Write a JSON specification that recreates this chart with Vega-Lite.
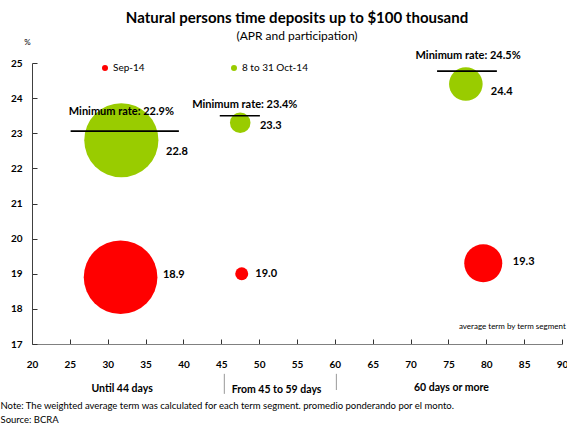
{
  "$schema": "https://vega.github.io/schema/vega-lite/v6.json",
  "width": 530,
  "height": 281,
  "autosize": {"type": "none"},
  "padding": {"left": 32, "top": 63, "right": 5, "bottom": 80},
  "background": "white",
  "title": {
    "text": "Natural persons time deposits up to $100 thousand",
    "subtitle": "(APR and participation)",
    "anchor": "middle",
    "frame": "group",
    "font": "Lato",
    "fontSize": 15,
    "fontWeight": "bold",
    "color": "black",
    "subtitleFont": "Lato",
    "subtitleFontSize": 12,
    "subtitleColor": "black",
    "subtitlePadding": 5,
    "offset": -4
  },
  "config": {
    "view": {"stroke": null},
    "font": "Lato",
    "axis": {"labelOverlap": false, "labelSeparation": 0, "grid": false, "labelBound": false, "labelFlush": false},
    "axisX": {
      "titleFont": "Lato", "titleFontSize": 9.5, "titleFontWeight": "normal", "titleColor": "black",
      "titleAnchor": "start", "titleAlign": "left", "titleX": -32, "titleY": 64,
      "titleBaseline": "alphabetic", "titleLineHeight": 14,
      "labelFont": "Lato", "labelFontWeight": "bold", "labelFontSize": 10, "labelColor": "black",
      "labelPadding": 20, "tickSize": -5, "tickColor": "#333333", "domainColor": "#808080"
    },
    "axisY": {
      "titleAngle": 0, "titleX": -5, "titleY": -21,
      "titleAlign": "center", "titleBaseline": "middle",
      "titleFont": "Lato", "titleFontSize": 8, "titleFontWeight": "normal", "titleColor": "black",
      "labelFont": "Lato", "labelFontWeight": "bold", "labelFontSize": 10, "labelColor": "black",
      "labelPadding": 15, "tickSize": -5, "tickColor": "#333333", "domainColor": "#404040"
    },
    "legend": {
      "orient": "none",
      "legendX": 68,
      "legendY": 0,
      "direction": "horizontal",
      "title": null,
      "symbolType": "circle",
      "symbolSize": 36,
      "symbolStrokeWidth": 0,
      "labelFont": "Lato",
      "labelFontSize": 10,
      "labelColor": "black",
      "labelOffset": 3,
      "columnPadding": 84,
      "padding": 0
    }
  },
  "datasets": {
    "bubbles": [
      {"series": "Sep-14", "segment": "Until 44 days", "term": 31.7, "rate": 18.9, "participation": 77, "lx": 37.3, "ly": 18.97},
      {"series": "Sep-14", "segment": "From 45 to 59 days", "term": 47.7, "rate": 19.0, "participation": 2.4, "lx": 49.5, "ly": 19.0},
      {"series": "Sep-14", "segment": "60 days or more", "term": 79.6, "rate": 19.3, "participation": 20.5, "lx": 83.5, "ly": 19.34},
      {"series": "8 to 31 Oct-14", "segment": "Until 44 days", "term": 31.8, "rate": 22.8, "participation": 78, "lx": 37.7, "ly": 22.47},
      {"series": "8 to 31 Oct-14", "segment": "From 45 to 59 days", "term": 47.5, "rate": 23.3, "participation": 6, "lx": 50.1, "ly": 23.2},
      {"series": "8 to 31 Oct-14", "segment": "60 days or more", "term": 77.3, "rate": 24.4, "participation": 16, "lx": 80.6, "ly": 24.18}
    ],
    "minrates": [
      {"segment": "Until 44 days", "label": "Minimum rate: 22.9%", "x1": 25.1, "x2": 39.4, "lineRate": 23.06, "tx": 31.8, "ty": 23.61},
      {"segment": "From 45 to 59 days", "label": "Minimum rate: 23.4%", "x1": 44.8, "x2": 50.1, "lineRate": 23.5, "tx": 48.1, "ty": 23.8},
      {"segment": "60 days or more", "label": "Minimum rate: 24.5%", "x1": 73.5, "x2": 81.4, "lineRate": 24.77, "tx": 77.6, "ty": 25.2}
    ],
    "segments": [
      {"segment": "Until 44 days", "cx": 31.9, "cy": 15.73},
      {"segment": "From 45 to 59 days", "cx": 52.3, "cy": 15.68},
      {"segment": "60 days or more", "cx": 75.4, "cy": 15.76}
    ],
    "separators": [
      {"sx": 45.4, "sy1": 16.15, "sy2": 15.58},
      {"sx": 60.2, "sy1": 16.15, "sy2": 15.69}
    ],
    "notes": [
      {"note": "average term by term segment", "nx": 90.5, "ny": 17.48}
    ]
  },
  "layer": [
    {
      "data": {"name": "bubbles"},
      "mark": {"type": "circle", "opacity": 1, "clip": false},
      "encoding": {
        "x": {
          "field": "term", "type": "quantitative",
          "scale": {"domain": [20, 90], "nice": false, "zero": false},
          "axis": {"values": [20, 25, 30, 35, 40, 45, 50, 55, 60, 65, 70, 75, 80, 85, 90], "labelOverlap": false, "title": ["Note: The weighted average term was calculated for each term segment. promedio ponderando por el monto.", "Source: BCRA"]}
        },
        "y": {
          "field": "rate", "type": "quantitative",
          "scale": {"domain": [17, 25], "nice": false, "zero": false},
          "axis": {"values": [17, 18, 19, 20, 21, 22, 23, 24, 25], "title": "%", "labelOverlap": false}
        },
        "color": {
          "field": "series", "type": "nominal",
          "scale": {"domain": ["Sep-14", "8 to 31 Oct-14"], "range": ["#FF0000", "#99CC00"]}
        },
        "size": {
          "field": "participation", "type": "quantitative",
          "scale": {"type": "linear", "domain": [0, 100], "range": [0, 7050]},
          "legend": null
        }
      }
    },
    {
      "data": {"name": "bubbles"},
      "mark": {"type": "text", "align": "left", "baseline": "middle", "fontWeight": "bold", "fontSize": 11, "font": "Lato", "color": "black"},
      "encoding": {
        "x": {"field": "lx", "type": "quantitative", "axis": {"values": [20, 25, 30, 35, 40, 45, 50, 55, 60, 65, 70, 75, 80, 85, 90], "labelOverlap": false, "title": ["Note: The weighted average term was calculated for each term segment. promedio ponderando por el monto.", "Source: BCRA"]}},
        "y": {"field": "ly", "type": "quantitative", "axis": {"values": [17, 18, 19, 20, 21, 22, 23, 24, 25], "title": "%", "labelOverlap": false}},
        "text": {"field": "rate", "type": "quantitative", "format": ".1f"}
      }
    },
    {
      "data": {"name": "minrates"},
      "mark": {"type": "rule", "color": "black", "strokeWidth": 1.6},
      "encoding": {
        "x": {"field": "x1", "type": "quantitative", "axis": {"values": [20, 25, 30, 35, 40, 45, 50, 55, 60, 65, 70, 75, 80, 85, 90], "labelOverlap": false, "title": ["Note: The weighted average term was calculated for each term segment. promedio ponderando por el monto.", "Source: BCRA"]}},
        "x2": {"field": "x2"},
        "y": {"field": "lineRate", "type": "quantitative", "axis": {"values": [17, 18, 19, 20, 21, 22, 23, 24, 25], "title": "%", "labelOverlap": false}}
      }
    },
    {
      "data": {"name": "minrates"},
      "mark": {"type": "text", "align": "center", "baseline": "middle", "fontWeight": "bold", "fontSize": 11, "font": "Lato", "color": "black"},
      "encoding": {
        "x": {"field": "tx", "type": "quantitative", "axis": {"values": [20, 25, 30, 35, 40, 45, 50, 55, 60, 65, 70, 75, 80, 85, 90], "labelOverlap": false, "title": ["Note: The weighted average term was calculated for each term segment. promedio ponderando por el monto.", "Source: BCRA"]}},
        "y": {"field": "ty", "type": "quantitative", "axis": {"values": [17, 18, 19, 20, 21, 22, 23, 24, 25], "title": "%", "labelOverlap": false}},
        "text": {"field": "label", "type": "nominal"}
      }
    },
    {
      "data": {"name": "segments"},
      "mark": {"type": "text", "align": "center", "baseline": "middle", "fontWeight": "bold", "fontSize": 10.5, "font": "Lato", "color": "black", "clip": false},
      "encoding": {
        "x": {"field": "cx", "type": "quantitative", "axis": {"values": [20, 25, 30, 35, 40, 45, 50, 55, 60, 65, 70, 75, 80, 85, 90], "labelOverlap": false, "title": ["Note: The weighted average term was calculated for each term segment. promedio ponderando por el monto.", "Source: BCRA"]}},
        "y": {"field": "cy", "type": "quantitative", "axis": {"values": [17, 18, 19, 20, 21, 22, 23, 24, 25], "title": "%", "labelOverlap": false}},
        "text": {"field": "segment", "type": "nominal"}
      }
    },
    {
      "data": {"name": "separators"},
      "mark": {"type": "rule", "color": "#999999", "strokeWidth": 1, "clip": false},
      "encoding": {
        "x": {"field": "sx", "type": "quantitative", "axis": {"values": [20, 25, 30, 35, 40, 45, 50, 55, 60, 65, 70, 75, 80, 85, 90], "labelOverlap": false, "title": ["Note: The weighted average term was calculated for each term segment. promedio ponderando por el monto.", "Source: BCRA"]}},
        "y": {"field": "sy1", "type": "quantitative", "axis": {"values": [17, 18, 19, 20, 21, 22, 23, 24, 25], "title": "%", "labelOverlap": false}},
        "y2": {"field": "sy2"}
      }
    },
    {
      "data": {"name": "notes"},
      "mark": {"type": "text", "align": "right", "baseline": "middle", "fontSize": 8, "font": "Lato", "color": "black", "clip": false},
      "encoding": {
        "x": {"field": "nx", "type": "quantitative", "axis": {"values": [20, 25, 30, 35, 40, 45, 50, 55, 60, 65, 70, 75, 80, 85, 90], "labelOverlap": false, "title": ["Note: The weighted average term was calculated for each term segment. promedio ponderando por el monto.", "Source: BCRA"]}},
        "y": {"field": "ny", "type": "quantitative", "axis": {"values": [17, 18, 19, 20, 21, 22, 23, 24, 25], "title": "%", "labelOverlap": false}},
        "text": {"field": "note", "type": "nominal"}
      }
    }
  ]
}
